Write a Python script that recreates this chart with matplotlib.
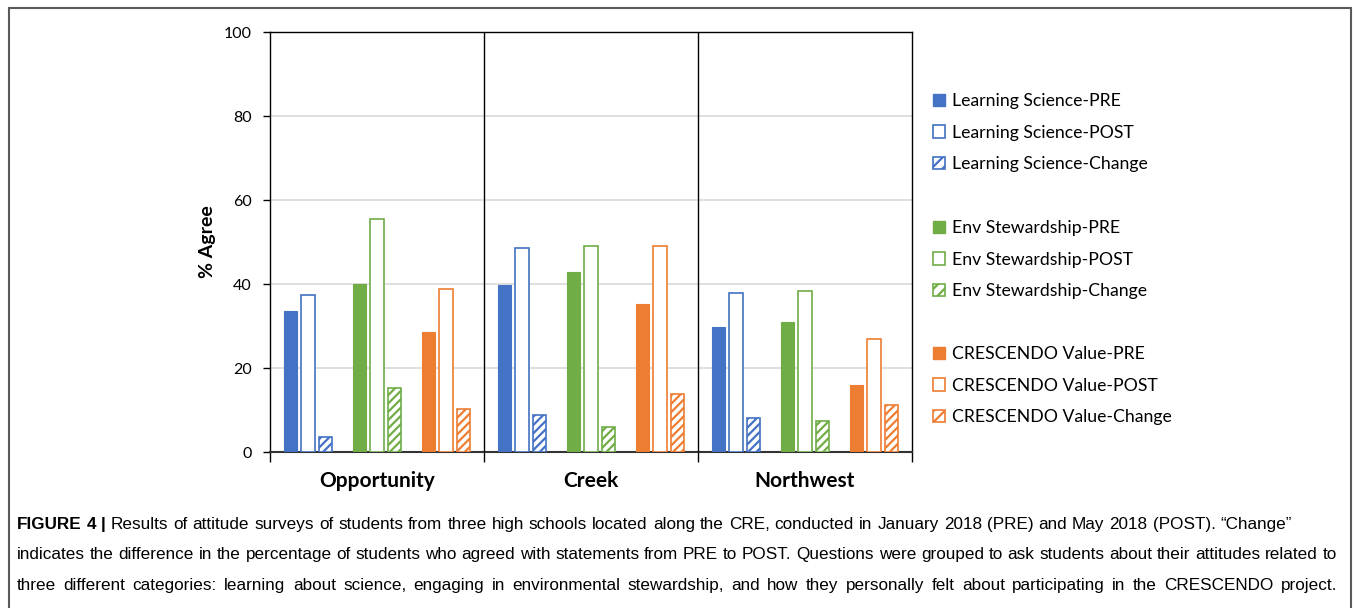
import matplotlib
matplotlib.use("Agg")
import matplotlib.pyplot as plt
from matplotlib.patches import Patch, Rectangle

schools = ["Opportunity", "Creek", "Northwest"]

ls_pre = [33.6, 39.7, 29.7]
ls_post = [37.4, 48.6, 37.9]
ls_change = [3.6, 8.8, 8.1]
env_pre = [40.0, 42.9, 30.9]
env_post = [55.4, 49.1, 38.3]
env_change = [15.3, 6.0, 7.4]
cr_pre = [28.6, 35.3, 15.9]
cr_post = [38.9, 49.1, 26.9]
cr_change = [10.2, 13.8, 11.1]

groups = [
    ("Learning Science", "#4472C4", ls_pre, ls_post, ls_change),
    ("Env Stewardship", "#70AD47", env_pre, env_post, env_change),
    ("CRESCENDO Value", "#ED7D31", cr_pre, cr_post, cr_change),
]

caption = [
    "Results of attitude surveys of students from three high schools located along the CRE, conducted in January 2018 (PRE) and May 2018 (POST). \u201cChange\u201d",
    "indicates the difference in the percentage of students who agreed with statements from PRE to POST. Questions were grouped to ask students about their attitudes related to",
    "three different categories: learning about science, engaging in environmental stewardship, and how they personally felt about participating in the CRESCENDO project.",
]

plt.rcParams["font.family"] = ["Lato", "DejaVu Sans"]
plt.rcParams["hatch.linewidth"] = 1.6

W, H = 1355, 608
fig = plt.figure(figsize=(W / 100, H / 100), dpi=100)
ax = fig.add_axes([270 / W, 1 - 452 / H, (912 - 270) / W, (452 - 32) / H])

cluster_off = 0.3224
bar_off = 0.0818
bw = 0.065

legend_tops = [93, 220, 346]
for k, (name, col, pre, post, chg) in enumerate(groups):
    xs = [i + (k - 1) * cluster_off for i in range(len(schools))]
    ax.bar([x - bar_off for x in xs], pre, bw, color=col, edgecolor=col, lw=0.8, zorder=3)
    ax.bar(xs, post, bw, facecolor="white", edgecolor=col, lw=1.2, zorder=3)
    ax.bar([x + bar_off for x in xs], chg, bw, facecolor="white", edgecolor=col,
           lw=1.2, hatch="////", zorder=3)
    handles = [
        Patch(facecolor=col, edgecolor=col, label=name + "-PRE"),
        Patch(facecolor="white", edgecolor=col, lw=1.2, label=name + "-POST"),
        Patch(facecolor="white", edgecolor=col, lw=1.2, hatch="///", label=name + "-Change"),
    ]
    fig.legend(handles=handles, loc="upper left",
               bbox_to_anchor=(933 / W, 1 - legend_tops[k] / H),
               frameon=False, fontsize=12.7, handlelength=0.7, handleheight=0.7,
               handletextpad=0.4, labelspacing=0.88, borderpad=0, borderaxespad=0)

ax.set_xlim(-0.5, 2.5)
ax.set_ylim(0, 100)
ax.set_yticks(range(0, 101, 20))
ax.tick_params(axis="y", labelsize=11.5, length=5, pad=8, width=1)
ax.yaxis.grid(True, color="#D9D9D9", lw=1.2, zorder=0)
ax.set_xticks([-0.5, 0.5, 1.5, 2.5])
ax.set_xticklabels([])
ax.tick_params(axis="x", which="major", length=7, width=1)
ax.set_xticks(range(len(schools)), minor=True)
ax.set_xticklabels(schools, minor=True, fontsize=15, fontweight="bold")
ax.tick_params(axis="x", which="minor", length=0, pad=14)
for xd in [0.5, 1.5]:
    ax.axvline(xd, color="black", lw=1, zorder=4)
for s in ax.spines.values():
    s.set_color("black")
    s.set_linewidth(1)
ax.spines["bottom"].set_color("#333333")
ax.spines["bottom"].set_linewidth(1.5)
ax.set_ylabel("% Agree", fontsize=14, fontweight="bold", labelpad=6)

# outer frame
fig.add_artist(Rectangle((9 / W, -0.05), (1351 - 9) / W, 1.05 - 8 / H,
                         transform=fig.transFigure, fill=False,
                         edgecolor="#5a5a5a", lw=1.5))

# justified caption
cap_fam = ["Liberation Sans", "DejaVu Sans"]
fig.canvas.draw()
r = fig.canvas.get_renderer()
line_y = [529, 559, 590]
line_right = [1292, 1337, 1337]
x_left = 17
for li, line in enumerate(caption):
    toks = [(w, "normal") for w in line.split(" ")]
    if li == 0:
        toks = [("FIGURE", "bold"), ("4", "bold"), ("|", "bold")] + toks
    texts = []
    for w, wt in toks:
        t = fig.text(0, 1 - line_y[li] / H, w, fontsize=12.3, fontweight=wt,
                     family=cap_fam, va="baseline", ha="left")
        texts.append(t)
    widths = [t.get_window_extent(renderer=r).width for t in texts]
    gap = (line_right[li] - x_left - sum(widths)) / (len(texts) - 1)
    x = x_left
    for t, w in zip(texts, widths):
        t.set_x(x / W)
        x += w + gap

fig.savefig("out.png", dpi=100)
